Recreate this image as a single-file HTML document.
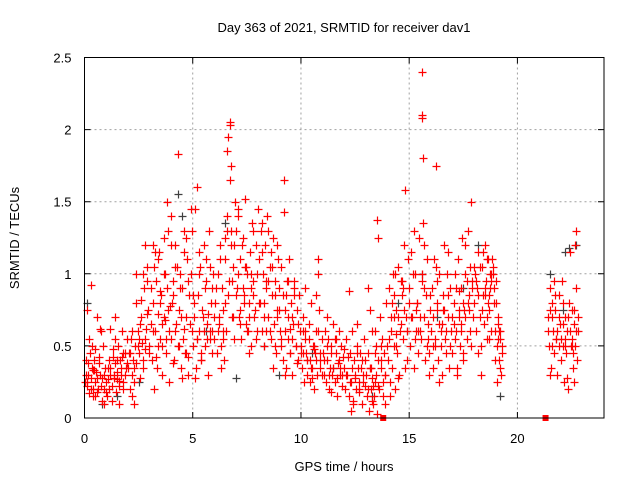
<!DOCTYPE html>
<html><head><meta charset="utf-8"><style>
body{margin:0;background:#fff}
svg text{font-family:"Liberation Sans",sans-serif;font-size:13px;fill:#000}
</style></head><body>
<svg id="chart" width="640" height="480" viewBox="0 0 640 480" xmlns="http://www.w3.org/2000/svg">
<rect width="640" height="480" fill="#fff"/>
<text x="344" y="32" text-anchor="middle">Day 363 of 2021, SRMTID for receiver dav1</text>
<text x="0" y="0" text-anchor="middle" transform="translate(19,238) rotate(-90)">SRMTID / TECUs</text>
<text x="344" y="471" text-anchor="middle">GPS time / hours</text>
<g id="grid"></g>
<g id="ticks"></g>
<g id="gray"></g>
<g id="red"></g>
<rect x="84.5" y="57.5" width="519.5" height="360.5" fill="none" stroke="#000" stroke-width="1"/>
</svg>
<script>
const xTicks=[0,5,10,15,20];
const yTicks=[0,0.5,1,1.5,2,2.5];
const yTickLabels=["0","0.5","1","1.5","2","2.5"];
const redHours=[
0.05,.1,.15,.2,.25,.3,.35,.4,.45,.5,.55,.6,.65,.7,.75,.8,.85,.9,.95,0.1,0.3,0.5,0.7,0.9,0.2,0.4,0.6,0.8,0.12,0.45,
1.0,1.05,1.1,1.15,1.2,1.25,1.3,1.35,1.4,1.45,1.5,1.55,1.6,1.65,1.7,1.75,1.8,1.85,1.9,1.95,1.2,1.4,1.6,1.8,1.3,1.5,
2.0,2.05,2.1,2.15,2.2,2.25,2.3,2.35,2.4,2.45,2.5,2.55,2.6,2.65,2.7,2.75,2.8,2.85,2.9,2.95,2.2,2.4,2.6,2.8,2.3,2.7,2.5,2.9,
3.0,3.05,3.1,3.15,3.2,3.25,3.3,3.35,3.4,3.45,3.5,3.55,3.6,3.65,3.7,3.75,3.8,3.85,3.9,3.95,3.2,3.4,3.6,3.8,3.3,3.7,3.5,3.9,3.15,3.65,
4.0,4.05,4.1,4.15,4.2,4.25,4.3,4.35,4.4,4.45,4.5,4.55,4.6,4.65,4.7,4.75,4.8,4.85,4.9,4.95,4.1,4.3,4.5,4.7,4.9,4.2,4.6,4.8,4.4,4.0,
5.0,5.05,5.1,5.15,5.2,5.25,5.3,5.35,5.4,5.45,5.5,5.55,5.6,5.65,5.7,5.75,5.8,5.85,5.9,5.95,5.1,5.3,5.5,5.7,5.9,5.2,5.4,5.6,5.8,5.0,
6.0,6.05,6.1,6.15,6.2,6.25,6.3,6.35,6.4,6.45,6.5,6.55,6.6,6.65,6.7,6.75,6.8,6.85,6.9,6.95,6.6,6.65,6.7,6.7,6.75,6.3,6.5,6.8,6.9,6.2,6.4,
7.0,7.05,7.1,7.15,7.2,7.25,7.3,7.35,7.4,7.45,7.5,7.55,7.6,7.65,7.7,7.75,7.8,7.85,7.9,7.95,7.2,7.4,7.6,7.8,7.1,7.3,7.5,7.7,7.9,
8.0,8.05,8.1,8.15,8.2,8.25,8.3,8.35,8.4,8.45,8.5,8.55,8.6,8.65,8.7,8.75,8.8,8.85,8.9,8.95,8.2,8.4,8.6,8.8,8.3,8.5,8.7,8.9,
9.0,9.05,9.1,9.15,9.2,9.25,9.3,9.35,9.4,9.45,9.5,9.55,9.6,9.65,9.7,9.75,9.8,9.85,9.9,9.95,9.2,9.25,9.4,9.6,9.8,9.1,9.3,9.5,9.7,
10.0,10.05,10.1,10.15,10.2,10.25,10.3,10.35,10.4,10.45,10.5,10.55,10.6,10.65,10.7,10.75,10.8,10.85,10.9,10.95,10.2,10.4,10.6,10.8,10.1,10.3,10.5,10.7,10.9,
11.0,11.05,11.1,11.15,11.2,11.25,11.3,11.35,11.4,11.45,11.5,11.55,11.6,11.65,11.7,11.75,11.8,11.85,11.9,11.95,11.2,11.4,11.6,11.8,
12.0,12.05,12.1,12.15,12.2,12.25,12.3,12.35,12.4,12.45,12.5,12.55,12.6,12.65,12.7,12.75,12.8,12.85,12.9,12.95,12.2,12.4,12.6,12.8,12.3,12.7,
13.0,13.05,13.1,13.15,13.2,13.25,13.3,13.35,13.4,13.45,13.5,13.55,13.6,13.65,13.7,13.75,13.8,13.85,13.9,13.95,13.2,13.4,13.5,13.55,13.3,13.1,13.7,13.9,
14.0,14.05,14.1,14.15,14.2,14.25,14.3,14.35,14.4,14.45,14.5,14.55,14.6,14.65,14.7,14.75,14.8,14.85,14.9,14.95,14.2,14.4,14.6,14.8,14.1,14.3,14.5,14.7,14.9,14.35,
15.0,15.05,15.1,15.15,15.2,15.25,15.3,15.35,15.4,15.45,15.5,15.55,15.6,15.6,15.6,15.62,15.65,15.7,15.75,15.8,15.85,15.9,15.95,15.2,15.4,15.6,15.8,15.3,15.7,15.9,
16.0,16.05,16.1,16.15,16.2,16.25,16.3,16.35,16.4,16.45,16.5,16.55,16.6,16.65,16.7,16.75,16.8,16.85,16.9,16.95,16.25,16.4,16.6,16.8,16.1,16.3,16.5,
17.0,17.05,17.1,17.15,17.2,17.25,17.3,17.35,17.4,17.45,17.5,17.55,17.6,17.65,17.7,17.75,17.8,17.85,17.9,17.95,17.2,17.4,17.6,17.8,17.1,17.3,17.5,17.7,17.85,
18.0,18.05,18.1,18.15,18.2,18.25,18.3,18.35,18.4,18.45,18.5,18.55,18.6,18.65,18.7,18.75,18.8,18.85,18.9,18.95,18.2,18.4,18.6,18.8,18.3,18.5,18.7,18.9,
19.0,19.05,19.1,19.15,19.2,19.25,19.3,19.0,19.1,19.2,19.05,19.15,
21.4,21.45,21.5,21.55,21.6,21.65,21.7,21.75,21.8,21.85,21.9,21.95,22.0,22.05,22.1,22.15,22.2,22.25,22.3,22.35,22.4,22.45,22.5,22.55,22.6,22.65,22.7,22.75,22.8,21.5,21.7,21.9,22.1,22.3,22.5,22.7,22.2,22.6
];
const redTec=[
.3,.22,.38,.17,.45,.28,.35,.2,.4,.25,.32,.18,.42,.3,.6,.12,.5,.1,.35,.75,.92,.48,.62,.2,.55,.15,.7,.28,.25,.33,
.25,.15,.35,.2,.3,.12,.42,.28,.38,.18,.32,.5,.22,.4,.3,.6,.25,.45,.35,.55,.62,.7,.1,.2,.48,.27,
.35,.45,.2,.55,.3,.4,.1,.5,.38,.6,.45,.28,.7,.52,.35,.9,.48,.62,1.05,.75,.15,1.0,.82,1.2,.25,.4,.55,.95,
.5,.65,.4,.8,1.05,.6,.95,.35,.72,1.15,.55,.85,.3,1.25,.68,.45,.9,1.3,.6,.78,.2,1.1,.5,1.5,.42,1.0,.88,.25,1.2,.7,
.55,.8,.95,.4,1.2,.65,1.83,.75,1.0,.35,.9,.55,1.3,.45,.7,1.1,.3,.85,1.45,.6,.38,.5,.28,1.25,1.0,1.05,.62,.42,.9,1.4,
.5,.7,1.45,.35,1.6,.85,.6,1.05,.4,.75,1.2,.5,.95,.65,.3,1.3,.55,.8,.45,1.0,.28,1.15,.6,.72,.9,.55,.4,1.1,.6,.85,
.55,.8,.45,1.0,.65,1.2,.5,.9,.75,.4,1.1,.6,1.4,.85,1.65,1.3,.7,1.05,.55,1.5,1.85,1.95,2.05,2.03,1.75,.35,1.25,.95,1.2,.7,.6,
1.3,.9,1.45,.7,1.1,.55,1.25,.85,1.52,.65,1.0,.6,.8,1.15,.5,1.35,.95,.7,1.2,.6,.75,1.05,.45,.85,1.4,.9,.6,1.0,.55,
1.45,1.1,.8,1.3,.6,1.0,.5,1.2,.9,1.4,.7,1.05,.55,.85,1.25,.65,.95,.45,.75,1.1,1.35,.6,1.15,.5,.8,.95,.35,.7,
.9,.6,1.05,.4,1.65,.75,.35,.95,.55,1.1,.45,.8,.3,.65,.9,.5,.75,.4,.85,.6,1.43,.3,.7,.55,.38,.5,.85,.62,.95,
.5,.35,.7,.25,.55,.45,.3,.65,.4,.8,.35,.5,.2,.45,.6,.3,1.1,.75,.4,.55,.9,.25,.48,1.0,.6,.4,.28,.85,.35,
.45,.3,.6,.25,.4,.55,.2,.35,.5,.3,.65,.25,.45,.15,.38,.6,.3,.5,.22,.42,.7,.18,.55,.35,
.35,.2,.55,.3,.15,.45,.25,.6,.1,.4,.28,.2,.5,.35,.18,.45,.1,.3,.55,.22,.88,.12,.65,.4,.05,.25,
.3,.15,.45,.05,.35,.2,.6,.1,.25,.5,.03,.4,.2,.7,.35,.55,.15,.45,.3,.8,.75,.6,1.37,1.25,.12,.9,.5,.1,
.4,.9,.25,.6,.35,1.0,.5,.2,.75,.45,1.05,.3,.65,.85,.55,1.2,1.58,.7,.4,1.1,.8,.58,.95,.35,.15,.7,.28,.9,.6,1.0,
.9,.5,1.15,.7,.35,1.0,.6,.8,.45,1.25,.7,.55,2.4,2.1,2.08,1.8,1.35,.9,.4,1.1,.65,.3,.85,1.3,.6,1.0,.5,.75,1.2,.45,
.6,.9,.35,1.1,.5,1.75,.75,.4,1.0,.6,.3,.85,1.2,.55,.45,1.0,.7,.35,.9,.6,1.05,.25,.75,1.15,.5,.95,.65,
.45,.8,1.0,.6,.35,1.1,.7,.5,.9,1.25,.4,.75,1.0,.55,1.3,.85,.6,1.5,.95,.7,.3,.65,1.2,1.05,.55,.88,.45,.8,.5,
.8,1.0,.6,.9,1.15,.7,.5,1.05,.85,.65,1.2,.95,.55,1.1,.75,.9,.6,1.05,.8,.4,.45,1.15,.7,1.0,.3,.85,.55,.9,
.8,.5,.65,.4,.55,.3,.45,.95,.7,.35,.25,.6,
.7,.5,.9,.35,.8,.6,.45,.75,.55,.3,.85,.65,.4,.95,.5,.25,.7,.45,.6,.2,.8,1.15,.55,.35,.65,1.2,.9,.4,.6,.3,.95,.5,.8,.28,.75,1.3,.55,.25
];
const redHours2=[
0.02,0.08,0.18,0.28,0.38,0.48,0.58,0.68,0.78,0.88,0.98,1.08,1.18,1.28,1.38,1.48,1.58,1.68,1.78,1.88,1.98,0.33,0.63,1.13,1.43,1.73,
2.08,2.18,2.28,2.38,2.48,2.58,2.68,2.78,2.88,2.98,3.08,3.18,3.28,3.38,3.48,3.58,3.68,3.78,3.88,3.98,
4.08,4.18,4.28,4.38,4.48,4.58,4.68,4.78,4.88,4.98,5.08,5.18,5.28,5.38,5.48,5.58,5.68,5.78,5.88,5.98,
6.08,6.18,6.28,6.38,6.48,6.58,6.68,6.78,6.88,6.98,7.08,7.18,7.28,7.38,7.48,7.58,7.68,7.78,7.88,7.98,
8.08,8.18,8.28,8.38,8.48,8.58,8.68,8.78,8.88,8.98,9.08,9.18,9.28,9.38,9.48,9.58,9.68,9.78,9.88,9.98,
10.08,10.18,10.28,10.38,10.48,10.58,10.68,10.78,10.88,10.98,11.08,11.18,11.28,11.38,11.48,11.58,11.68,11.78,11.88,11.98,
12.08,12.18,12.28,12.38,12.48,12.58,12.68,12.78,12.88,12.98,13.08,13.18,13.28,13.38,13.48,13.58,13.68,13.78,13.88,13.98,13.22,13.32,13.42,
14.08,14.18,14.28,14.38,14.48,14.58,14.68,14.78,14.88,14.98,15.08,15.18,15.28,15.38,15.48,15.58,15.68,15.78,15.88,15.98,
16.08,16.18,16.28,16.38,16.48,16.58,16.68,16.78,16.88,16.98,17.08,17.18,17.28,17.38,17.48,17.58,17.68,17.78,17.88,17.98,
18.08,18.18,18.28,18.38,18.48,18.58,18.68,18.78,18.88,18.98,19.08,19.18,19.28,18.62,18.72,18.82,
21.42,21.52,21.62,21.72,21.82,21.92,22.02,22.12,22.22,22.32,22.42,22.52,22.62,22.72,22.78,22.48,22.58,21.58,21.78,22.68
];
const redTec2=[
.25,.4,.3,.2,.33,.15,.28,.38,.22,.3,.18,.27,.35,.22,.3,.4,.26,.35,.45,.3,.38,.5,.2,.4,.55,.42,
.45,.6,.35,.8,.5,.65,1.0,.55,.72,.45,.9,.6,1.15,.5,.8,.65,1.0,.55,.75,1.2,
.85,.6,1.05,.5,.7,1.15,.45,.95,.65,1.3,.8,.55,1.0,.45,.7,.9,.55,1.05,.6,.7,
.9,.6,1.1,.55,.8,1.3,.95,1.2,.7,.85,1.0,.65,1.2,.8,1.05,.7,.9,1.3,.75,1.0,
.8,1.15,.7,.95,1.3,.6,1.05,.85,1.2,.75,.55,.85,.6,.95,.45,.7,.85,.5,.65,.45,
.45,.6,.4,.55,.35,.5,.4,.6,.45,.3,.4,.5,.3,.45,.35,.55,.28,.4,.3,.48,
.3,.42,.25,.35,.3,.45,.2,.35,.25,.4,.2,.35,.28,.15,.3,.22,.4,.25,.3,.5,.35,.22,.45,
.55,.7,.85,.5,.7,.6,.95,.75,.6,.8,.7,1.0,.55,.8,.6,.95,.7,.85,.55,.75,
.7,.55,.8,.65,.5,.75,.6,.85,.5,.7,.65,.9,.75,.6,.8,.7,.95,.75,.9,1.05,
.95,.85,1.05,.75,.9,1.1,.85,.95,1.0,.6,.55,.6,.5,.8,1.0,1.1,
.6,.75,.5,.85,.6,.7,.55,.65,.5,.7,.6,.5,.75,.6,.7,.5,.45,.7,.55,.5
];
const grayHours=[0.1,0.8,1.5,2.5,4.3,4.5,5.6,6.5,7.0,8.3,9.0,10.5,11.5,13.3,14.5,15.6,16.3,17.5,18.2,19.2,21.5,22.1,22.2,22.4,22.7];
const grayTec=[.8,.1,.15,.25,1.55,1.4,.6,1.35,.28,.5,.3,.45,.35,.15,.8,1.0,.7,.9,1.2,.15,1.0,.75,1.15,1.18,1.2];
const zeroHours=[13.8,21.3];

const NS="http://www.w3.org/2000/svg";
const L=84.5,R=604,T=57.5,B=418;
const xs=h=>L+(h/24)*(R-L);
const ys=v=>B-(v/2.5)*(B-T);
function mk(tag,attrs,parent){const e=document.createElementNS(NS,tag);for(const k in attrs)e.setAttribute(k,attrs[k]);parent.appendChild(e);return e;}
const grid=document.getElementById('grid'),ticks=document.getElementById('ticks');
xTicks.forEach(t=>{
  const x=xs(t);
  if(t>0){const g=mk('line',{x1:x,x2:x,y1:T,y2:B,stroke:'#a0a0a0','stroke-dasharray':'2,3'},grid);
  
  }
  const a=mk('path',{d:`M${x},${B}v-6M${x},${T}v6`,stroke:'#000'},ticks);
  
  
  const lb=mk('text',{x:x,y:B+25,'text-anchor':'middle'},ticks);lb.textContent=String(t);
  
  
});
yTicks.forEach((t,i)=>{
  const y=ys(t);
  if(t>0&&t<2.5){const g=mk('line',{x1:L,x2:R,y1:y,y2:y,stroke:'#a0a0a0','stroke-dasharray':'2,3'},grid);
  
  }
  const a=mk('path',{d:`M${L},${y}h6M${R},${y}h-6`,stroke:'#000'},ticks);
  
  
  const lb=mk('text',{x:L-13,y:y+5,'text-anchor':'end'},ticks);lb.textContent=yTickLabels[i];
  
  
});
function plus(h,v,col,parent,name){
  const x=Math.round(xs(h))+0.5,y=Math.round(ys(v))+0.5;
  const p=mk('path',{d:`M${x-4},${y}h8M${x},${y-4}v8`,stroke:col,'stroke-width':1.2},parent);
  
  
}
const gG=document.getElementById('gray'),gR=document.getElementById('red');
grayHours.forEach((h,i)=>plus(h,grayTec[i],'#404040',gG,'gray-point'));
redHours.forEach((h,i)=>plus(h,redTec[i],'#ff0000',gR,'red-point'));
redHours2.forEach((h,i)=>plus(h,redTec2[i],'#ff0000',gR,'red-point'));
zeroHours.forEach(h=>{
  const r=mk('rect',{x:xs(h)-3,y:B-3,width:6,height:6,fill:'#ff0000'},gR);
  
  
});
</script>
</body></html>
